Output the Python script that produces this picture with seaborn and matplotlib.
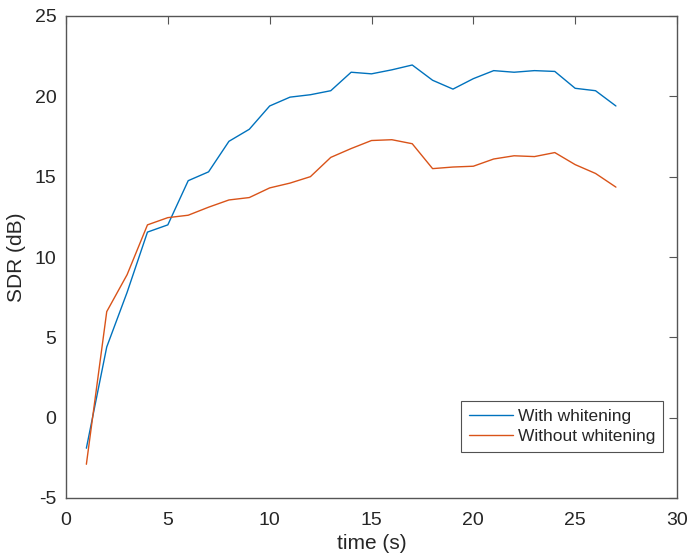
import numpy as np
import pandas as pd
import matplotlib
matplotlib.use("Agg")
import matplotlib.pyplot as plt
import seaborn as sns

# Data
time_s = list(range(1, 28))
sdr_with = [-1.9, 4.4, 7.8, 11.55, 12.0, 14.75, 15.3, 17.2, 17.95, 19.4,
            19.95, 20.1, 20.35, 21.5, 21.4, 21.65, 21.95, 21.0, 20.45, 21.1,
            21.6, 21.5, 21.6, 21.55, 20.5, 20.35, 19.4]
sdr_without = [-2.9, 6.6, 8.9, 12.0, 12.45, 12.6, 13.1, 13.55, 13.7, 14.3,
               14.6, 15.0, 16.2, 16.75, 17.25, 17.3, 17.05, 15.5, 15.6, 15.65,
               16.1, 16.3, 16.25, 16.5, 15.75, 15.2, 14.35]
series_names = ["With whitening", "Without whitening"]
x_ticks = [0, 5, 10, 15, 20, 25, 30]
y_ticks = [-5, 0, 5, 10, 15, 20, 25]

df = pd.DataFrame({
    "time": time_s * 2,
    "sdr": sdr_with + sdr_without,
    "series": [series_names[0]] * len(time_s) + [series_names[1]] * len(time_s),
})

sns.set_style("white")
plt.rcParams["font.family"] = ["Liberation Sans", "DejaVu Sans"]
plt.rcParams["axes.unicode_minus"] = False

fig = plt.figure(figsize=(6.87, 5.56), dpi=100)
ax = fig.add_axes([66 / 687, 1 - 498 / 556, 611 / 687, 482 / 556])

sns.lineplot(data=df, x="time", y="sdr", hue="series",
             palette=["#0072BD", "#D95319"], linewidth=1.0, ax=ax)

ax.set_xlim(0, 30)
ax.set_ylim(-5, 25)
ax.set_xticks(x_ticks)
ax.set_yticks(y_ticks)
ax.set_xlabel("time (s)", fontsize=15, color="#262626", labelpad=4)
ax.set_ylabel("SDR (dB)", fontsize=15, color="#262626", labelpad=6)

axis_color = "#555555"
for sp in ax.spines.values():
    sp.set_visible(True)
    sp.set_color(axis_color)
    sp.set_linewidth(1.0)
ax.tick_params(direction="in", length=6, width=0.8, colors=axis_color,
               labelcolor="#262626", labelsize=14, top=True, right=True)
ax.tick_params(axis="x", pad=10)
ax.tick_params(axis="y", pad=7)

leg = ax.legend(loc="lower right", bbox_to_anchor=(0.977, 0.095),
                fontsize=12.5, frameon=True, fancybox=False, handlelength=2.5,
                borderpad=0.45, labelspacing=0.3, handletextpad=0.3,
                borderaxespad=0)
leg.get_frame().set_edgecolor("#262626")
leg.get_frame().set_linewidth(0.8)

fig.savefig("out.png", dpi=100)
